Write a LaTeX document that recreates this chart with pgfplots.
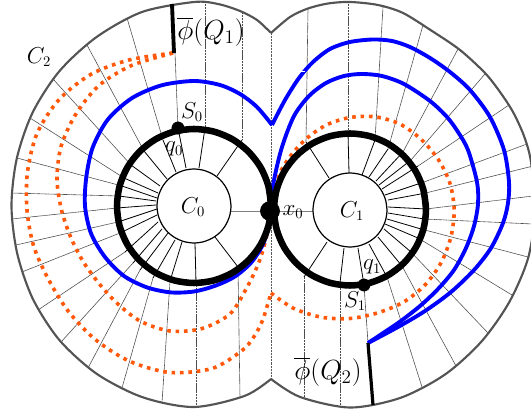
\documentclass[border=0pt]{standalone}
\usepackage{pgfplots}
\pgfplotsset{compat=1.18}
\definecolor{dotorange}{RGB}{255,88,10}
\definecolor{rimgray}{gray}{0.33}

\pgfplotsset{
  outerspoke/.style={black!70,line width=0.45pt,dash pattern=on 0.9pt off 0.25pt,forget plot},
  innerspoke/.style={black,line width=0.6pt,forget plot},
  rim/.style={rimgray,line width=1.6pt,smooth},
  dots/.style={dotorange,line width=2.7pt,smooth,dash pattern=on 2.7pt off 3.6pt},
  bluecurve/.style={blue,line width=2.9pt,smooth},
  ring/.style={black,line width=4.9pt,smooth},
  hub/.style={black,line width=0.9pt,smooth},
}
\tikzset{
  small label/.style={font=\fontsize{16}{18}\selectfont},
  big label/.style={font=\fontsize{20}{24}\selectfont},
}
% one spoke: rim point, point on the thick circle, point on the hub
\newcommand{\spoke}[3]{%
  \addplot[outerspoke] coordinates {#1 #2};
  \addplot[innerspoke] coordinates {#2 #3};
}

\begin{document}
\begin{tikzpicture}
\path[use as bounding box] (0,0) rectangle (398.25pt,312pt);
\begin{axis}[
    at={(0,0)},anchor=south west,
    scale only axis,
    width=398.25pt,height=312pt,
    xmin=0,xmax=531,ymin=0,ymax=416,
    y dir=reverse,
    hide axis,
    every node/.append style={text=black!90},
]

% left lobe spokes
\spoke{(242,13)}{(242,140)}{(217,176)}
\spoke{(205,2)}{(205,128)}{(199,168)}
\spoke{(175,53)}{(178,128)}{(186,168)}
\spoke{(127,18)}{(163,140)}{(176,172)}
\spoke{(87,45)}{(144,151)}{(167,179)}
\spoke{(53,79)}{(131,165)}{(160,186)}
\spoke{(30,118)}{(124,178)}{(158,193)}
\spoke{(17,158)}{(122,186)}{(157,198)}
\spoke{(11,193)}{(119,196)}{(156,201)}
\spoke{(11,219)}{(117,208)}{(156,205)}
\spoke{(16,245)}{(118,222)}{(157,209)}
\spoke{(22,272)}{(120,233)}{(157,215)}
\spoke{(38,310)}{(125,252)}{(158,222)}
\spoke{(61,342)}{(133,263)}{(162,229)}
\spoke{(88,368)}{(140,270)}{(168,233)}
\spoke{(122,388)}{(153,278)}{(175,240)}
\spoke{(162,403)}{(170,281)}{(182,242)}
\spoke{(196,407)}{(196,283)}{(195,243)}
\spoke{(240,398)}{(238,267)}{(215,237)}

% right lobe spokes
\spoke{(308,9)}{(306,142)}{(329,178)}
\spoke{(348,2)}{(348,133)}{(349,173)}
\spoke{(383,7)}{(375,140)}{(362,175)}
\spoke{(423,25)}{(388,149)}{(369,177)}
\spoke{(458,49)}{(403,152)}{(376,181)}
\spoke{(485,74)}{(411,160)}{(379,185)}
\spoke{(509,105)}{(418,166)}{(382,189)}
\spoke{(527,144)}{(424,182)}{(385,195)}
\spoke{(533,166)}{(426,193)}{(388,200)}
\spoke{(533,196)}{(426,209)}{(388,207)}
\spoke{(533,224)}{(424,219)}{(388,213)}
\spoke{(528,257)}{(421,229)}{(387,219)}
\spoke{(512,295)}{(418,238)}{(385,224)}
\spoke{(488,333)}{(411,252)}{(384,229)}
\spoke{(456,366)}{(402,266)}{(378,237)}
\spoke{(422,387)}{(387,277)}{(369,244)}
\spoke{(368,343)}{(364,285)}{(358,248)}
\spoke{(340,407)}{(340,283)}{(344,248)}
\spoke{(304,399)}{(304,277)}{(327,242)}

% centre lines
\addplot[black!65,line width=0.5pt,dash pattern=on 0.7pt off 0.4pt] coordinates {(271,33) (271,379)};
\addplot[black!50,line width=0.5pt] coordinates {(230,211) (313,211)};

% C_2
\addplot[rim] coordinates {(271,33) (257,20) (240,11) (218,4) (194,2) (142,12) (96.5,37.1) (59.3,71.3) (32.5,112.8) (16.8,158.5) (11.5,206) (17.2,253.4) (32.9,299) (59.6,340.3) (97,374) (142.8,397.3) (194,407) (244.9,395.8) (271,379)};
\addplot[rim] coordinates {(271,33) (290,17) (308,8.5) (328,3.5) (350,2) (378,5) (403,13) (432,31) (460,50) (485,73) (500,92) (513,112) (524,136) (531,162) (535,210) (528.2,257.8) (509.3,302) (481.5,341.5) (445,374.5) (400.3,397.9) (350,407.5) (299.9,396.9) (271,379)};

% dotted curves
\addplot[dots] coordinates {(173,53) (129.8,59.8) (91.5,74) (59.3,99.3) (37.1,133.3) (27.5,171.8) (27,210) (33.8,246.5) (48.8,280) (68.5,311.5) (95.3,339.5) (129.5,361.2) (170,372.5) (212.4,368.4) (241.7,350.8) (253.1,338) (262.6,320.3) (271,293)};
\addplot[dots] coordinates {(271,293) (293.3,308.2) (321.3,317.2) (350,318.5) (377.6,312.9) (403.3,302.2) (425,285) (441.1,262.6) (450.9,237) (454.2,210) (449.9,183.2) (438.1,159.2) (420.9,139.1) (399.7,123.9) (375,116.8) (350,117.5) (327.1,124.6) (308,137.3) (292.9,152.9) (281.2,170.3) (274.7,189.8) (270,210)};
\addplot[dots] coordinates {(173,53) (131.3,65.6) (98.4,86) (75.2,115.2) (60.9,147) (57,179.7) (61.5,210) (70.5,236.7) (82.5,260.5) (97.9,282.1) (116.5,302.7) (140.2,321.1) (170,331) (201.8,328.6) (230,313.9) (247.1,287.1) (259.2,261.5) (266.6,235.9) (270,210)};

% blue curves
\addplot[bluecurve] coordinates {(368,343) (398,327) (425,311) (451,292) (474,270) (491,248) (503,223) (508,203) (509,182) (504,150) (490,117) (470,90) (450,72) (430,58) (410,47) (392,41) (373,39.5) (350,42) (330,49) (313,62) (299,78) (285,100) (272,125)};
\addplot[bluecurve] coordinates {(272,125) (257,107) (240,94) (220,85) (194,81) (161.6,85.3) (131.8,98.2) (107.7,119.7) (92.7,147.5) (86.3,177.1) (85,206) (91.1,233.6) (105.2,257.3) (124,276) (147,287.4) (170.8,292.4) (194,291.5) (215.4,285.7) (234.8,276.6) (250.9,262.9) (262.4,245.5) (268.9,226.1) (270,210)};
\addplot[bluecurve] coordinates {(368,343) (398,323) (420,306) (438,289) (454,270) (466,248) (474,226) (478,204) (477,182) (468,150) (458,132) (447,117) (430,101) (404,84) (382,76) (362,74) (344,76) (326,83) (309,96) (294,116) (282,147) (274,180) (270,208)};
\addplot[white,line width=0.6pt] coordinates {(300,71) (305,71)};

% the two thick circles
\addplot[ring] coordinates {(271,206) (268.4,186.1) (260.7,167.5) (248.4,151.6) (232.5,139.3) (213.9,131.6) (194,129) (174.1,131.6) (155.5,139.3) (139.6,151.6) (127.3,167.5) (119.6,186.1) (117,206) (119.6,225.9) (127.3,244.5) (139.6,260.4) (155.5,272.7) (174.1,280.4) (194,283) (213.9,280.4) (232.5,272.7) (248.4,260.4) (260.7,244.5) (268.4,225.9) (271,206) (268.4,186.1)};
\addplot[ring] coordinates {(426,209.5) (423.4,189.8) (415.8,171.5) (403.7,155.8) (388,143.7) (369.7,136.1) (350,133.5) (330.3,136.1) (312,143.7) (296.3,155.8) (284.2,171.5) (276.6,189.8) (274,209.5) (276.6,229.2) (284.2,247.5) (296.3,263.2) (312,275.3) (330.3,282.9) (350,285.5) (369.7,282.9) (388,275.3) (403.7,263.2) (415.8,247.5) (423.4,229.2) (426,209.5) (423.4,189.8)};

% hubs
\addplot[hub] coordinates {(231,206) (229.7,196.4) (226,187.5) (220.2,179.8) (212.5,174) (203.6,170.3) (194,169) (184.4,170.3) (175.5,174) (167.8,179.8) (162,187.5) (158.3,196.4) (157,206) (158.3,215.6) (162,224.5) (167.8,232.2) (175.5,238) (184.4,241.7) (194,243) (203.6,241.7) (212.5,238) (220.2,232.2) (226,224.5) (229.7,215.6) (231,206) (229.7,196.4)};
\addplot[hub] coordinates {(387,210) (385.7,200.4) (382,191.5) (376.2,183.8) (368.5,178) (359.6,174.3) (350,173) (340.4,174.3) (331.5,178) (323.8,183.8) (318,191.5) (314.3,200.4) (313,210) (314.3,219.6) (318,228.5) (323.8,236.2) (331.5,242) (340.4,245.7) (350,247) (359.6,245.7) (368.5,242) (376.2,236.2) (382,228.5) (385.7,219.6) (387,210) (385.7,200.4)};

% Q1 and Q2 ends
\addplot[black,line width=2.9pt] coordinates {(172,4) (174,53)};
\addplot[black,line width=2.4pt] coordinates {(368,343) (373,405)};

% marked points
\addplot[only marks,mark=*,mark size=4.6pt,black] coordinates {(178,128) (364,285)};
\addplot[only marks,mark=*,mark size=7.2pt,black] coordinates {(270,211)};

\node[big label] at (axis cs:211,32) {$\overline{\phi}(Q_1)$};
\node[big label] at (axis cs:328,372) {$\overline{\phi}(Q_2)$};
\node[small label] at (axis cs:39,57) {$C_2$};
\node[small label] at (axis cs:192,112) {$S_0$};
\node[small label] at (axis cs:174,149) {$q_0$};
\node[small label] at (axis cs:193,207) {$C_0$};
\node[small label] at (axis cs:293,212) {$x_0$};
\node[small label] at (axis cs:352,211) {$C_1$};
\node[small label] at (axis cs:372,267) {$q_1$};
\node[small label] at (axis cs:355,301) {$S_1$};
\end{axis}
\end{tikzpicture}
\end{document}
